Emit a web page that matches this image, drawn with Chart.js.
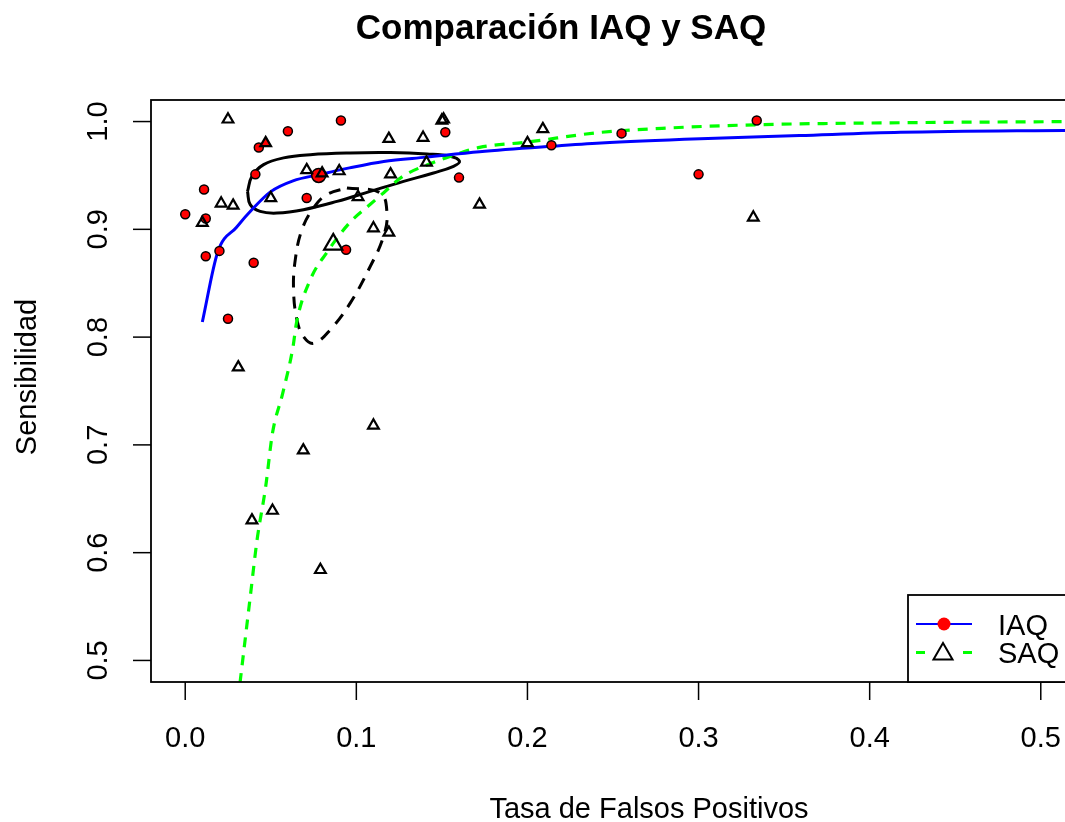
<!DOCTYPE html>
<html>
<head>
<meta charset="utf-8">
<title>Comparación IAQ y SAQ</title>
<script src="https://cdn.jsdelivr.net/npm/chart.js@4.4.1/dist/chart.umd.min.js"></script>
<style>
  html, body { margin: 0; padding: 0; background: #fff; overflow: hidden; }
  #wrap { width: 1065px; height: 822px; overflow: hidden; }
  canvas { display: block; }
</style>
</head>
<body>
<div id="wrap"><canvas id="roc" width="1090" height="822"></canvas></div>
<script>
const FONT = '"Liberation Sans", Arial, Helvetica, sans-serif';

// axis ticks
const X_TICKS = [0.0, 0.1, 0.2, 0.3, 0.4, 0.5];
const Y_TICKS = [0.5, 0.6, 0.7, 0.8, 0.9, 1.0];

// IAQ studies (tasa de falsos positivos, sensibilidad)
const iaqFpr  = [0.000, 0.011, 0.012, 0.012, 0.020, 0.025, 0.040, 0.041, 0.043, 0.060,
                 0.071, 0.091, 0.094, 0.152, 0.160, 0.214, 0.255, 0.300, 0.334];
const iaqSens = [0.914, 0.937, 0.910, 0.875, 0.880, 0.817, 0.869, 0.951, 0.976, 0.991,
                 0.929, 1.001, 0.881, 0.990, 0.948, 0.978, 0.989, 0.951, 1.001];
const iaqSummary = [0.078, 0.950];

// SAQ studies
const saqFpr  = [0.025, 0.151, 0.150, 0.119, 0.139, 0.047, 0.071, 0.080, 0.090, 0.120,
                 0.141, 0.050, 0.021, 0.028, 0.010, 0.101, 0.110, 0.119, 0.172, 0.200,
                 0.209, 0.332, 0.031, 0.110, 0.069, 0.051, 0.039, 0.079];
const saqSens = [1.002, 1.002, 1.001, 0.984, 0.985, 0.980, 0.955, 0.952, 0.954, 0.951,
                 0.962, 0.929, 0.924, 0.922, 0.906, 0.930, 0.901, 0.897, 0.923, 0.980,
                 0.993, 0.911, 0.772, 0.718, 0.695, 0.639, 0.630, 0.584];
const saqSummary = [0.0865, 0.886];

// SROC curves
const iaqCurveFpr  = [0.010, 0.019, 0.030, 0.040, 0.050, 0.063, 0.079, 0.096, 0.116, 0.141,
                      0.172, 0.214, 0.243, 0.301, 0.359, 0.418, 0.520];
const iaqCurveSens = [0.814, 0.879, 0.902, 0.920, 0.935, 0.945, 0.951, 0.957, 0.963, 0.967,
                      0.972, 0.977, 0.980, 0.984, 0.987, 0.990, 0.992];
const saqCurveFpr  = [0.032, 0.038, 0.042, 0.047, 0.051, 0.057, 0.063, 0.065, 0.073, 0.083,
                      0.096, 0.108, 0.116, 0.127, 0.145, 0.161, 0.172, 0.200, 0.243, 0.282,
                      0.333, 0.424, 0.520];
const saqCurveSens = [0.479, 0.559, 0.612, 0.661, 0.711, 0.748, 0.791, 0.813, 0.853, 0.879,
                      0.906, 0.923, 0.934, 0.949, 0.962, 0.971, 0.976, 0.981, 0.990, 0.994,
                      0.997, 0.999, 1.000];

// confidence regions
const iaqRegionFpr  = [0.0364, 0.0390, 0.0458, 0.0575, 0.0731, 0.0964, 0.1198, 0.1413, 0.1549, 0.1603,
                       0.1568, 0.1451, 0.1276, 0.1081, 0.0887, 0.0691, 0.0536, 0.0438, 0.0380, 0.0364];
const iaqRegionSens = [0.9352, 0.9492, 0.9600, 0.9663, 0.9693, 0.9709, 0.9712, 0.9700, 0.9678, 0.9631,
                       0.9585, 0.9523, 0.9445, 0.9352, 0.9259, 0.9182, 0.9151, 0.9166, 0.9229, 0.9352];
const saqRegionFpr  = [0.0945, 0.1140, 0.1179, 0.1159, 0.1081, 0.0964, 0.0847, 0.0750, 0.0691, 0.0653,
                       0.0633, 0.0643, 0.0682, 0.0750, 0.0828, 0.0945];
const saqRegionSens = [0.9384, 0.9337, 0.9151, 0.8934, 0.8655, 0.8315, 0.8067, 0.7943, 0.8005, 0.8160,
                       0.8439, 0.8717, 0.8996, 0.9198, 0.9322, 0.9384];

const toXY = (xs, ys) => xs.map((x, i) => ({ x: x, y: ys[i] }));

// one SAQ triangle sits on top of an IAQ dot and shows red
const saqFill = saqFpr.map((x, i) => (i === 5 ? '#ff0000' : 'rgba(0,0,0,0)'));

function drawTriangle(ctx, x, y, r) {
    ctx.beginPath();
    ctx.moveTo(x, y - r);
    ctx.lineTo(x + r * Math.sin(2 * Math.PI / 3), y + r / 2);
    ctx.lineTo(x - r * Math.sin(2 * Math.PI / 3), y + r / 2);
    ctx.closePath();
    ctx.stroke();
}

const frame = {
    id: 'frame',
    beforeDraw(chart) {
        const ctx = chart.ctx;
        ctx.save();
        ctx.fillStyle = '#fff';
        ctx.fillRect(0, 0, chart.width, chart.height);
        ctx.restore();
    },
    afterDraw(chart) {
        const ctx = chart.ctx;
        const a = chart.chartArea;
        const xs = chart.scales.x;
        const ys = chart.scales.y;
        ctx.save();

        // box
        ctx.strokeStyle = '#000';
        ctx.lineWidth = 1.8;
        ctx.strokeRect(a.left, a.top, a.right - a.left, a.bottom - a.top);

        // ticks and labels
        ctx.lineWidth = 1.5;
        ctx.fillStyle = '#000';
        ctx.font = '29px ' + FONT;
        ctx.textAlign = 'center';
        ctx.textBaseline = 'alphabetic';
        X_TICKS.forEach(v => {
            const px = xs.getPixelForValue(v);
            ctx.beginPath();
            ctx.moveTo(px, a.bottom);
            ctx.lineTo(px, a.bottom + 18);
            ctx.stroke();
            ctx.fillText(v.toFixed(1), px, 747);
        });
        Y_TICKS.forEach(v => {
            const py = ys.getPixelForValue(v);
            ctx.beginPath();
            ctx.moveTo(a.left, py);
            ctx.lineTo(a.left - 18, py);
            ctx.stroke();
            ctx.save();
            ctx.translate(107, py);
            ctx.rotate(-Math.PI / 2);
            ctx.fillText(v.toFixed(1), 0, 0);
            ctx.restore();
        });

        // axis titles
        ctx.fillText('Tasa de Falsos Positivos', 649, 818);
        ctx.save();
        ctx.translate(36, 377);
        ctx.rotate(-Math.PI / 2);
        ctx.fillText('Sensibilidad', 0, 0);
        ctx.restore();

        // main title
        ctx.font = 'bold 35px ' + FONT;
        ctx.fillText('Comparación IAQ y SAQ', 561, 39);

        // legend
        const lx = 908, ly = 595;
        ctx.fillStyle = '#fff';
        ctx.fillRect(lx, ly, a.right - lx, a.bottom - ly);
        ctx.strokeStyle = '#000';
        ctx.lineWidth = 1.8;
        ctx.strokeRect(lx, ly, a.right - lx, a.bottom - ly);

        ctx.strokeStyle = '#0000ff';
        ctx.lineWidth = 2;
        ctx.beginPath();
        ctx.moveTo(916, 624);
        ctx.lineTo(972, 624);
        ctx.stroke();
        ctx.fillStyle = '#ff0000';
        ctx.beginPath();
        ctx.arc(944, 624, 6.5, 0, Math.PI * 2);
        ctx.fill();

        ctx.strokeStyle = '#00ff00';
        ctx.lineWidth = 3;
        ctx.beginPath();
        ctx.moveTo(916, 652.5);
        ctx.lineTo(925, 652.5);
        ctx.moveTo(963, 652.5);
        ctx.lineTo(972, 652.5);
        ctx.stroke();
        ctx.strokeStyle = '#000';
        ctx.lineWidth = 2;
        drawTriangle(ctx, 943, 654, 11);

        ctx.fillStyle = '#000';
        ctx.font = '29px ' + FONT;
        ctx.textAlign = 'left';
        ctx.fillText('IAQ', 998, 635);
        ctx.fillText('SAQ', 998, 663);
        ctx.restore();
    }
};

new Chart(document.getElementById('roc'), {
    type: 'scatter',
    data: {
        datasets: [
            {
                label: 'Región IAQ',
                type: 'line',
                data: toXY(iaqRegionFpr, iaqRegionSens),
                borderColor: '#000',
                borderWidth: 3,
                pointRadius: 0,
                tension: 0.4,
                fill: false,
                order: 8
            },
            {
                label: 'Región SAQ',
                type: 'line',
                data: toXY(saqRegionFpr, saqRegionSens),
                borderColor: '#000',
                borderWidth: 3,
                borderDash: [12, 9],
                pointRadius: 0,
                tension: 0.4,
                fill: false,
                order: 7
            },
            {
                label: 'SROC SAQ',
                type: 'line',
                data: toXY(saqCurveFpr, saqCurveSens),
                borderColor: '#00ff00',
                borderWidth: 3.2,
                borderDash: [10, 8],
                pointRadius: 0,
                cubicInterpolationMode: 'monotone',
                fill: false,
                order: 6
            },
            {
                label: 'SROC IAQ',
                type: 'line',
                data: toXY(iaqCurveFpr, iaqCurveSens),
                borderColor: '#0000ff',
                borderWidth: 3,
                pointRadius: 0,
                cubicInterpolationMode: 'monotone',
                fill: false,
                order: 5
            },
            {
                label: 'IAQ',
                data: toXY(iaqFpr, iaqSens),
                pointStyle: 'circle',
                pointRadius: 4.5,
                pointBackgroundColor: '#ff0000',
                pointBorderColor: '#000',
                pointBorderWidth: 1.5,
                order: 4
            },
            {
                label: 'IAQ resumen',
                data: [{ x: iaqSummary[0], y: iaqSummary[1] }],
                pointStyle: 'circle',
                pointRadius: 7,
                pointBackgroundColor: '#ff0000',
                pointBorderColor: '#000',
                pointBorderWidth: 1.5,
                order: 3
            },
            {
                label: 'SAQ',
                data: toXY(saqFpr, saqSens),
                pointStyle: 'triangle',
                pointRadius: 6.2,
                pointBackgroundColor: saqFill,
                pointBorderColor: '#000',
                pointBorderWidth: 2.2,
                order: 2
            },
            {
                label: 'SAQ resumen',
                data: [{ x: saqSummary[0], y: saqSummary[1] }],
                pointStyle: 'triangle',
                pointRadius: 10.5,
                pointBackgroundColor: 'rgba(0,0,0,0)',
                pointBorderColor: '#000',
                pointBorderWidth: 2.2,
                order: 1
            }
        ]
    },
    options: {
        responsive: false,
        animation: false,
        devicePixelRatio: 1,
        events: [],
        layout: { padding: { left: 151, right: 15, top: 100, bottom: 140 } },
        scales: {
            x: { type: 'linear', display: false, min: -0.02, max: 0.52 },
            y: { type: 'linear', display: false, min: 0.48, max: 1.02 }
        },
        plugins: {
            legend: { display: false },
            title: { display: false },
            tooltip: { enabled: false }
        }
    },
    plugins: [frame]
});
</script>
</body>
</html>
